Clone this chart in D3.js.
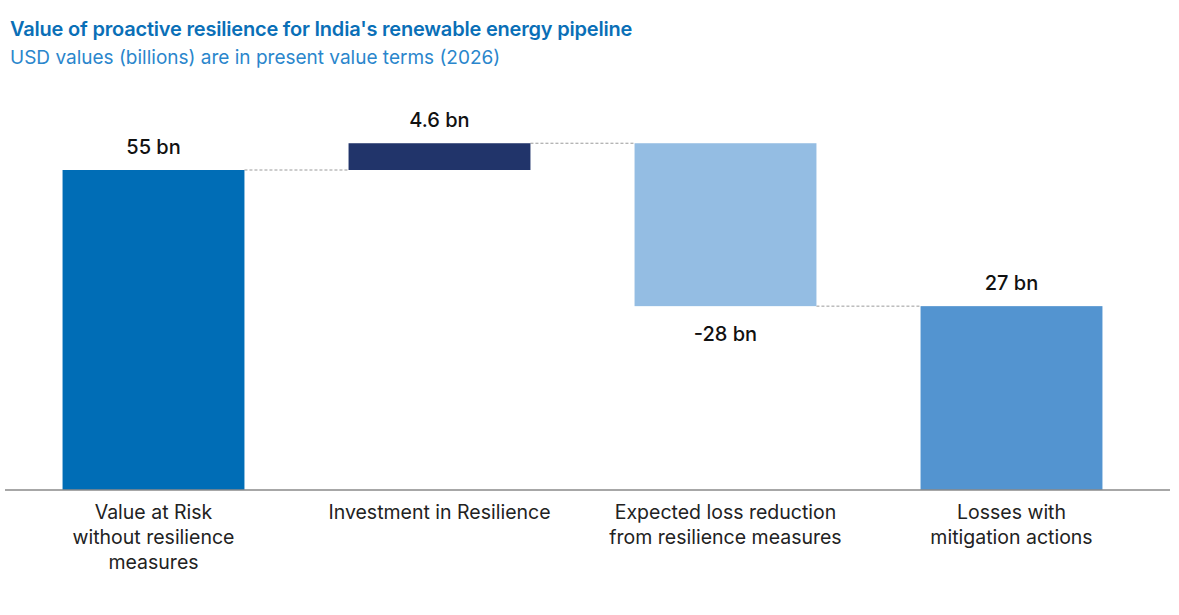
<!DOCTYPE html>
<html>
  <head>
    <meta charset="utf-8">
    <title>Proactive resilience waterfall</title>
    <script src="https://d3js.org/d3.v7.min.js"></script>
    <style>
      body { margin: 0; background: #fff; }
      text { font-family: Inter, Roboto, "Noto Sans", sans-serif; }
    </style>
  </head>
  <body>
    <script>
      var categories = [
        ["Value at Risk", "without resilience", "measures"],
        ["Investment in Resilience"],
        ["Expected loss reduction", "from resilience measures"],
        ["Losses with", "mitigation actions"]
      ];
      // steps of the waterfall, the last bar is the running total
      var steps = [55, 4.6, -28];
      var valueLabels = ["55 bn", "4.6 bn", "-28 bn", "27 bn"];
      var colors = ["#006db6", "#21346a", "#94bde3", "#5394d0"];

      var width = 1179;
      var height = 615;

      var svg = d3.select("body").append("svg").attr("width", width).attr("height", height);

      svg.append("text")
        .attr("x", 10).attr("y", 36)
        .attr("fill", "#0a6fb7")
        .attr("font-size", 20)
        .attr("font-weight", 600)
        .attr("letter-spacing", -0.2)
        .text("Value of proactive resilience for India's renewable energy pipeline");

      svg.append("text")
        .attr("x", 10).attr("y", 64)
        .attr("fill", "#2a86cc")
        .attr("font-size", 19)
        .text("USD values (billions) are in present value terms (2026)");

      // build start/end of each bar
      var bars = [];
      var run = 0;
      steps.forEach(function(v, i) {
        var start = i === 0 ? 0 : run;
        run += v;
        bars.push({ i: i, start: start, end: run, label: valueLabels[i] });
      });
      bars.push({ i: steps.length, start: 0, end: run, label: valueLabels[steps.length] });

      var xScale = d3.scaleBand()
        .domain(d3.range(categories.length))
        .range([10.5, 1154.5])
        .paddingInner(0.364)
        .paddingOuter(0.182);

      var yScale = d3.scaleLinear()
        .domain([0, 55])
        .range([490, 170]);

      // dashed connectors
      bars.slice(0, -1).forEach(function(b) {
        svg.append("line")
          .attr("x1", xScale(b.i) + xScale.bandwidth())
          .attr("x2", xScale(b.i + 1))
          .attr("y1", yScale(b.end))
          .attr("y2", yScale(b.end))
          .attr("stroke", "#9a9a9a")
          .attr("stroke-width", 1)
          .attr("stroke-dasharray", "3,2");
      });

      svg.selectAll("rect.bar")
        .data(bars)
        .enter()
        .append("rect")
        .attr("class", "bar")
        .attr("x", function(d) { return xScale(d.i); })
        .attr("width", xScale.bandwidth())
        .attr("y", function(d) { return yScale(Math.max(d.start, d.end)); })
        .attr("height", function(d) { return Math.abs(yScale(d.start) - yScale(d.end)); })
        .attr("fill", function(d) { return colors[d.i]; });

      svg.selectAll("text.val")
        .data(bars)
        .enter()
        .append("text")
        .attr("class", "val")
        .attr("x", function(d) { return xScale(d.i) + xScale.bandwidth() / 2; })
        .attr("y", function(d) {
          if (d.end < d.start) return yScale(d.end) + 35;
          return yScale(d.end) - 16;
        })
        .attr("text-anchor", "middle")
        .attr("font-size", 20)
        .attr("font-weight", 500)
        .attr("fill", "#111")
        .text(function(d) { return d.label; });

      // baseline
      var axisX = d3.axisBottom(xScale).tickSize(0).tickFormat("");
      var axisG = svg.append("g")
        .attr("transform", "translate(0," + yScale(0) + ")")
        .call(axisX);
      axisG.select(".domain").remove();
      axisG.append("line")
        .attr("x1", 5).attr("x2", 1170)
        .attr("stroke", "#8a8a8a").attr("stroke-width", 1.5);

      categories.forEach(function(lines, i) {
        var t = svg.append("text")
          .attr("x", xScale(i) + xScale.bandwidth() / 2)
          .attr("y", 519)
          .attr("text-anchor", "middle")
          .attr("font-size", 19.5)
          .attr("fill", "#222");
        lines.forEach(function(s, j) {
          t.append("tspan")
            .attr("x", xScale(i) + xScale.bandwidth() / 2)
            .attr("dy", j === 0 ? 0 : 25)
            .text(s);
        });
      });
    </script>
  </body>
</html>
